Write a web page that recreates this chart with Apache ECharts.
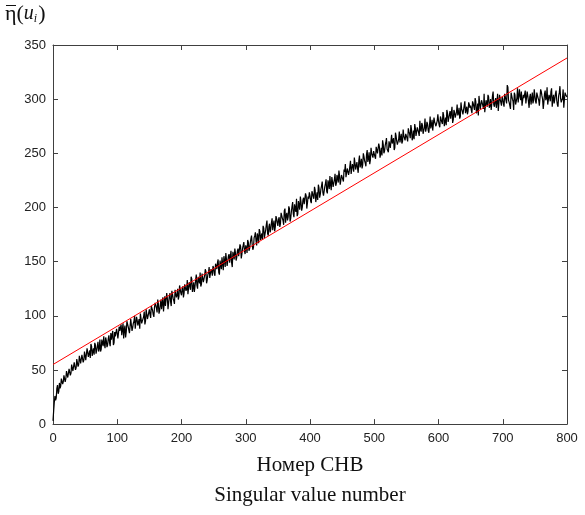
<!DOCTYPE html>
<html>
<head>
<meta charset="utf-8">
<script src="https://cdn.jsdelivr.net/npm/echarts@6/dist/echarts.min.js"></script>
<style>html,body{margin:0;padding:0;background:#fff}#c{width:585px;height:515px}</style>
</head>
<body>
<div id="c"></div>
<script>
// eta values at even x = 0,2,4,...,800
var etaEven = [
3,20,22,33,28,38,35,43,39,46,42,49,44,52,47,55,50,57,52,59,55,62,57,64,59,
66,60,69,65,61,72,67,64,73,68,76,70,67,78,72,74,80,71,79,75,84,77,73,85,80,
88,80,86,92,83,79,91,85,94,87,84,96,89,95,88,99,91,97,102,93,96,104,95,101,98,
106,98,110,101,108,113,103,111,105,115,107,104,118,110,116,112,121,109,120,114,124,117,125,118,127,
119,127,121,130,125,120,131,124,134,126,122,133,128,136,130,127,139,131,137,141,133,140,135,143,137,
144,137,146,149,140,151,143,148,155,145,152,147,157,150,149,159,152,158,154,162,156,164,157,165,160,
165,158,168,162,171,166,163,174,169,176,167,178,171,170,181,173,184,176,182,177,186,179,188,182,190,
183,191,185,194,188,197,186,195,191,199,190,201,194,203,196,192,206,198,205,200,209,202,211,204,208,
211,204,213,208,216,210,207,218,212,220,214,211,222,215,225,217,221,228,219,226,220,230,223,229,225,
231,224,233,228,236,230,238,231,240,233,241,234,236,243,237,245,239,247,241,249,242,251,244,250,246,
251,245,253,249,256,250,248,258,252,260,254,251,262,256,259,264,255,266,258,263,260,268,261,266,262,
268,261,270,264,272,265,263,273,267,275,266,272,278,268,274,270,279,271,276,273,281,272,279,275,280,
280,274,283,277,285,279,276,287,280,289,281,278,290,283,288,285,292,284,291,286,294,287,293,289,295,
294,287,296,290,298,289,285,297,292,300,291,288,299,293,302,294,290,303,295,298,292,305,296,300,294,
300,293,302,296,311,297,291,303,298,306,295,301,297,309,299,294,304,300,296,307,298,302,295,306,299,
303,296,305,299,293,307,300,297,308,301,295,304,298,310,300,296,305,299,293,306,301,297,309,300,304,
302
];
// eta values at odd x = 1,3,5,...,799
var etaOdd = [
12,26,24,36,30,33,42,37,45,39,49,43,51,45,55,49,57,50,60,53,63,56,64,57,67,
59,70,62,68,74,63,70,75,65,72,67,78,69,75,81,70,77,73,82,72,78,86,75,81,88,
79,90,85,82,93,87,80,95,90,84,97,86,93,100,89,96,92,88,101,95,99,92,106,97,103,
101,109,105,99,112,107,115,102,110,106,117,111,109,121,106,118,113,123,116,111,125,119,115,128,121,
125,117,129,123,133,121,128,136,122,131,127,138,125,133,140,129,135,132,143,130,138,145,134,141,146,
139,148,143,152,138,147,154,142,151,158,146,155,149,160,145,156,162,151,160,155,166,153,162,168,157,
163,170,160,167,174,161,172,177,165,173,180,170,176,183,172,179,188,174,185,180,190,184,178,192,186,
189,182,195,190,184,199,193,188,201,187,196,205,191,199,208,194,202,210,197,207,203,213,199,210,214,
206,215,210,219,205,214,221,209,217,224,211,219,226,213,222,229,216,224,218,231,222,227,234,221,230,
226,235,240,229,237,233,243,230,238,246,235,242,232,248,240,236,250,243,238,253,245,240,255,248,252,
247,256,250,259,246,255,262,250,257,264,253,261,255,267,258,253,269,261,257,270,264,259,272,265,268,
264,273,268,276,262,271,277,266,274,269,280,270,276,267,282,273,277,269,284,276,271,283,278,274,286,
276,284,279,288,275,283,290,279,286,282,293,281,288,284,295,287,282,297,289,285,298,290,286,297,292,
290,298,293,301,287,296,303,291,299,294,305,289,298,304,292,300,296,307,293,301,298,289,304,299,302,
296,305,301,313,299,294,306,300,290,304,298,310,296,302,307,293,301,308,297,303,292,305,300,296,309,
298,306,301,294,309,303,291,305,299,311,296,302,307,293,304,300,308,295,303,312,297,301,292,306,303
];
// Red reference line endpoints
var fitX = [0, 800];
var fitY = [55, 338];
// Axis ticks
var xTicks = [0, 100, 200, 300, 400, 500, 600, 700, 800];
var yTicks = [0, 50, 100, 150, 200, 250, 300, 350];

var etaData = [];
for (var i = 0; i < etaEven.length; i++) {
  etaData.push([2 * i, etaEven[i]]);
  if (i < etaOdd.length) etaData.push([2 * i + 1, etaOdd[i]]);
}
var fitData = fitX.map(function (x, i) { return [x, fitY[i]]; });

var axisColor = '#404040';
var labelStyle = { color: '#222', fontFamily: 'Liberation Sans, Arial, sans-serif', fontSize: 13 };

function xAx(pos, showLabel) {
  return {
    type: 'value', position: pos, min: xTicks[0], max: xTicks[xTicks.length - 1], interval: 100,
    axisLine: { show: true, onZero: false, lineStyle: { color: axisColor, width: 1 } },
    axisTick: { show: true, inside: true, length: 5, lineStyle: { color: axisColor } },
    axisLabel: Object.assign({ show: showLabel, margin: 8 }, labelStyle),
    splitLine: { show: false }
  };
}
function yAx(pos, showLabel) {
  return {
    type: 'value', position: pos, min: yTicks[0], max: yTicks[yTicks.length - 1], interval: 50,
    axisLine: { show: true, onZero: false, lineStyle: { color: axisColor, width: 1 } },
    axisTick: { show: true, inside: true, length: 5, lineStyle: { color: axisColor } },
    axisLabel: Object.assign({ show: showLabel, margin: 7 }, labelStyle),
    splitLine: { show: false }
  };
}

var xMain = xAx('bottom', true);
xMain.name = 'Номер СНВ\nSingular value number';
xMain.nameLocation = 'middle';
xMain.nameGap = 24;
xMain.nameTextStyle = {
  fontFamily: 'Liberation Serif, Times New Roman, serif', fontSize: 21, color: '#111',
  lineHeight: 30, verticalAlign: 'top'
};

var chart = echarts.init(document.getElementById('c'), null, { renderer: 'canvas' });
chart.setOption({
  animation: false,
  backgroundColor: '#fff',
  grid: { left: 53, right: 18, top: 45, bottom: 78, containLabel: false },
  xAxis: [xMain, xAx('top', false)],
  yAxis: [yAx('left', true), yAx('right', false)],
  graphic: [{
    type: 'text', left: 5, top: 3,
    style: {
      text: '{eta|η}{p|(}{u|u}{s|i}{p|)}',
      rich: {
        eta: { fontFamily: 'Liberation Serif, serif', fontSize: 22, fill: '#111' },
        p: { fontFamily: 'Liberation Serif, serif', fontSize: 22, fill: '#111' },
        u: { fontFamily: 'Liberation Serif, serif', fontStyle: 'italic', fontSize: 20, fill: '#111' },
        s: { fontFamily: 'Liberation Serif, serif', fontStyle: 'italic', fontSize: 12, fill: '#111', padding: [10, 1, 0, 0] }
      }
    }
  }, {
    type: 'line', shape: { x1: 6, y1: 5.5, x2: 16, y2: 5.5 },
    style: { stroke: '#111', lineWidth: 1 }
  }],
  series: [
    {
      type: 'line', data: etaData, xAxisIndex: 0, yAxisIndex: 0,
      showSymbol: false, symbol: 'none', sampling: null,
      lineStyle: { color: '#000', width: 1.2 }, z: 2
    },
    {
      type: 'line', data: fitData, xAxisIndex: 0, yAxisIndex: 0,
      showSymbol: false, symbol: 'none',
      lineStyle: { color: '#ff0000', width: 1 }, z: 3
    }
  ]
});
</script>
</body>
</html>
